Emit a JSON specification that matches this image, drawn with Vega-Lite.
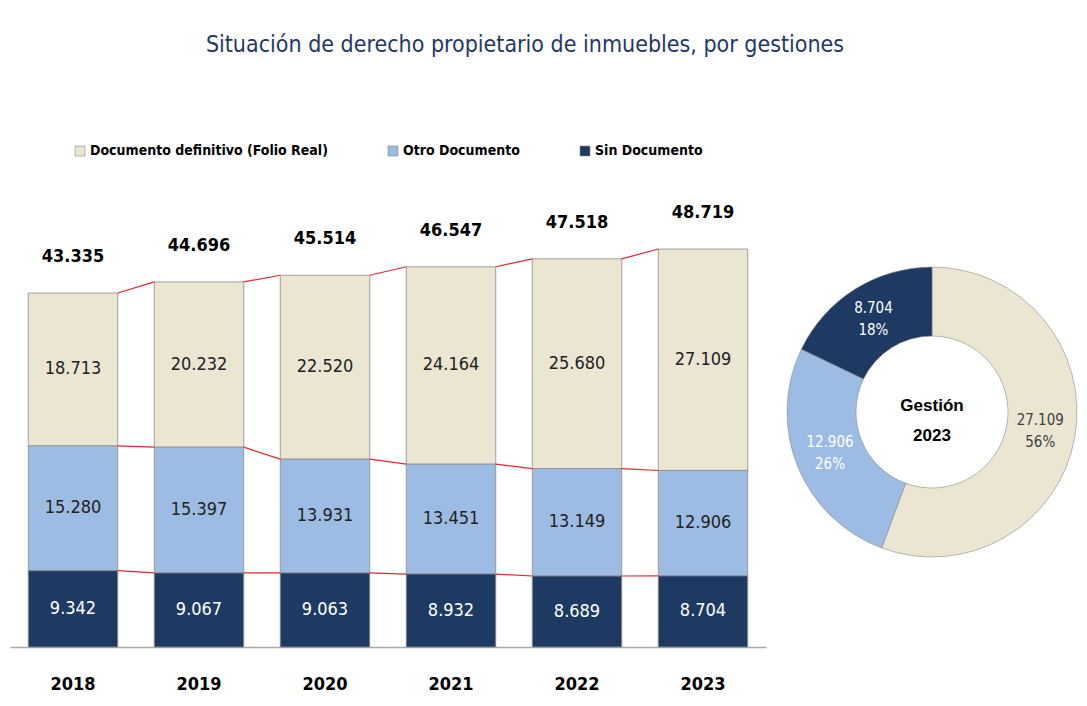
{
  "$schema": "https://vega.github.io/schema/vega-lite/v6.json",
  "background": "white",
  "padding": {"left": 10, "top": 34, "right": 5, "bottom": 10},
  "title": {
    "text": "Situación de derecho propietario de inmuebles, por gestiones",
    "anchor": "middle",
    "dx": -21,
    "offset": 87,
    "font": "DejaVu Sans Condensed, sans-serif",
    "fontSize": 23,
    "fontWeight": "normal",
    "color": "#1F3864"
  },
  "datasets": {
    "d": [
      {"year": "2018", "cat": "Documento definitivo (Folio Real)", "value": 18713},
      {"year": "2018", "cat": "Otro Documento", "value": 15280},
      {"year": "2018", "cat": "Sin Documento", "value": 9342},
      {"year": "2019", "cat": "Documento definitivo (Folio Real)", "value": 20232},
      {"year": "2019", "cat": "Otro Documento", "value": 15397},
      {"year": "2019", "cat": "Sin Documento", "value": 9067},
      {"year": "2020", "cat": "Documento definitivo (Folio Real)", "value": 22520},
      {"year": "2020", "cat": "Otro Documento", "value": 13931},
      {"year": "2020", "cat": "Sin Documento", "value": 9063},
      {"year": "2021", "cat": "Documento definitivo (Folio Real)", "value": 24164},
      {"year": "2021", "cat": "Otro Documento", "value": 13451},
      {"year": "2021", "cat": "Sin Documento", "value": 8932},
      {"year": "2022", "cat": "Documento definitivo (Folio Real)", "value": 25680},
      {"year": "2022", "cat": "Otro Documento", "value": 13149},
      {"year": "2022", "cat": "Sin Documento", "value": 8689},
      {"year": "2023", "cat": "Documento definitivo (Folio Real)", "value": 27109},
      {"year": "2023", "cat": "Otro Documento", "value": 12906},
      {"year": "2023", "cat": "Sin Documento", "value": 8704}
    ]
  },
  "spacing": 16,
  "resolve": {"scale": {"color": "independent"}},
  "hconcat": [
    {
      "width": 756,
      "height": 446,
      "data": {"name": "d"},
      "encoding": {
        "x": {
          "field": "year", "type": "ordinal",
          "scale": {"paddingInner": 0.29, "paddingOuter": 0.145},
          "axis": {
            "title": null, "labelAngle": 0, "ticks": false,
            "labelPadding": 28, "labelFontSize": 18, "labelFontWeight": "bold",
            "labelFont": "DejaVu Sans Condensed, sans-serif",
            "labelColor": "#000", "domainColor": "#AAAAAA", "domainWidth": 1.5
          }
        }
      },
      "layer": [
        {
          "mark": {"type": "bar", "stroke": "#8C8C8C", "strokeWidth": 0.8},
          "encoding": {
            "y": {"field": "value", "type": "quantitative", "stack": "zero",
                  "scale": {"domain": [0, 54600], "nice": false}, "axis": null},
            "order": {"field": "cat", "sort": "descending"},
            "color": {
              "field": "cat", "type": "nominal",
              "scale": {
                "domain": ["Documento definitivo (Folio Real)", "Otro Documento", "Sin Documento"],
                "range": ["#EAE6D2", "#9DBCE3", "#1E3A63"]
              },
              "legend": {
                "title": null, "orient": "none", "legendX": 63, "legendY": -57,
                "direction": "horizontal", "columnPadding": 58,
                "symbolType": "square", "symbolSize": 100, "symbolStrokeColor": "#888",
                "symbolStrokeWidth": 0.6, "symbolOffset": 0,
                "labelFont": "DejaVu Sans Condensed, sans-serif",
                "labelFontSize": 14, "labelFontWeight": "bold", "labelColor": "#000",
                "labelOffset": 3, "labelLimit": 400
              }
            }
          }
        },
        {
          "transform": [
            {"stack": "value", "groupby": ["year"], "sort": [{"field": "cat", "order": "descending"}], "as": ["y0", "y1"]},
            {"window": [{"op": "lead", "field": "y1", "as": "ny1"}, {"op": "lead", "field": "year", "as": "nyear"}],
             "groupby": ["cat"], "sort": [{"field": "year", "order": "ascending"}]},
            {"filter": "datum.nyear != null"}
          ],
          "mark": {"type": "rule", "color": "#E0282E", "strokeWidth": 1.2},
          "encoding": {
            "x": {"field": "year", "type": "ordinal", "bandPosition": 1},
            "x2": {"field": "nyear", "bandPosition": 0},
            "y": {"field": "y1", "type": "quantitative", "axis": null},
            "y2": {"field": "ny1"}
          }
        },
        {
          "mark": {"type": "text", "font": "DejaVu Sans Condensed, sans-serif",
                   "fontSize": 18, "baseline": "middle"},
          "encoding": {
            "y": {"field": "value", "type": "quantitative", "stack": "zero", "bandPosition": 0.5, "axis": null},
            "order": {"field": "cat", "sort": "descending"},
            "text": {"field": "value", "type": "quantitative", "format": ",d"},
            "color": {"condition": {"test": "datum.cat === 'Sin Documento'", "value": "#FFFFFF"}, "value": "#222222"}
          }
        },
        {
          "transform": [{"aggregate": [{"op": "sum", "field": "value", "as": "total"}], "groupby": ["year"]}],
          "mark": {"type": "text", "font": "DejaVu Sans Condensed, sans-serif",
                   "fontSize": 18, "fontWeight": "bold", "baseline": "middle", "dy": -36, "color": "#000"},
          "encoding": {
            "y": {"field": "total", "type": "quantitative", "axis": null},
            "text": {"field": "total", "type": "quantitative", "format": ",d"}
          }
        }
      ]
    },
    {
      "width": 300,
      "height": 422,
      "data": {"name": "d"},
      "transform": [
        {"filter": "datum.year === '2023'"},
        {"joinaggregate": [{"op": "sum", "field": "value", "as": "tot"}]},
        {"calculate": "datum.value / datum.tot", "as": "pct"}
      ],
      "layer": [
        {
          "mark": {"type": "arc", "outerRadius": 145, "innerRadius": 76, "stroke": "#8C8C8C", "strokeWidth": 0.6},
          "encoding": {
            "theta": {"field": "value", "type": "quantitative", "stack": true},
            "order": {"field": "cat", "sort": "ascending"},
            "color": {
              "field": "cat", "type": "nominal",
              "scale": {
                "domain": ["Documento definitivo (Folio Real)", "Otro Documento", "Sin Documento"],
                "range": ["#EAE6D2", "#9DBCE3", "#1E3A63"]
              },
              "legend": null
            }
          }
        },
        {
          "mark": {"type": "text", "radius": 110, "dy": -11, "fontSize": 15,
                   "font": "DejaVu Sans Condensed, sans-serif"},
          "encoding": {
            "theta": {"field": "value", "type": "quantitative", "stack": true},
            "order": {"field": "cat", "sort": "ascending"},
            "text": {"field": "value", "type": "quantitative", "format": ",d"},
            "color": {"condition": {"test": "datum.cat === 'Documento definitivo (Folio Real)'", "value": "#404040"}, "value": "#FFFFFF"}
          }
        },
        {
          "mark": {"type": "text", "radius": 110, "dy": 11, "fontSize": 15,
                   "font": "DejaVu Sans Condensed, sans-serif"},
          "encoding": {
            "theta": {"field": "value", "type": "quantitative", "stack": true},
            "order": {"field": "cat", "sort": "ascending"},
            "text": {"field": "pct", "type": "quantitative", "format": ".0%"},
            "color": {"condition": {"test": "datum.cat === 'Documento definitivo (Folio Real)'", "value": "#404040"}, "value": "#FFFFFF"}
          }
        },
        {
          "transform": [{"filter": "datum.cat === 'Sin Documento'"}],
          "mark": {"type": "text", "text": ["Gestión", "2023"], "lineHeight": 30, "dy": -6,
                   "fontSize": 17, "fontWeight": "bold", "color": "#000",
                   "font": "Liberation Sans, Arial, sans-serif", "baseline": "middle"},
          "encoding": {}
        }
      ]
    }
  ],
  "config": {
    "view": {"stroke": null},
    "locale": {"number": {"decimal": ",", "thousands": ".", "grouping": [3], "currency": ["", " Bs"]}}
  }
}
